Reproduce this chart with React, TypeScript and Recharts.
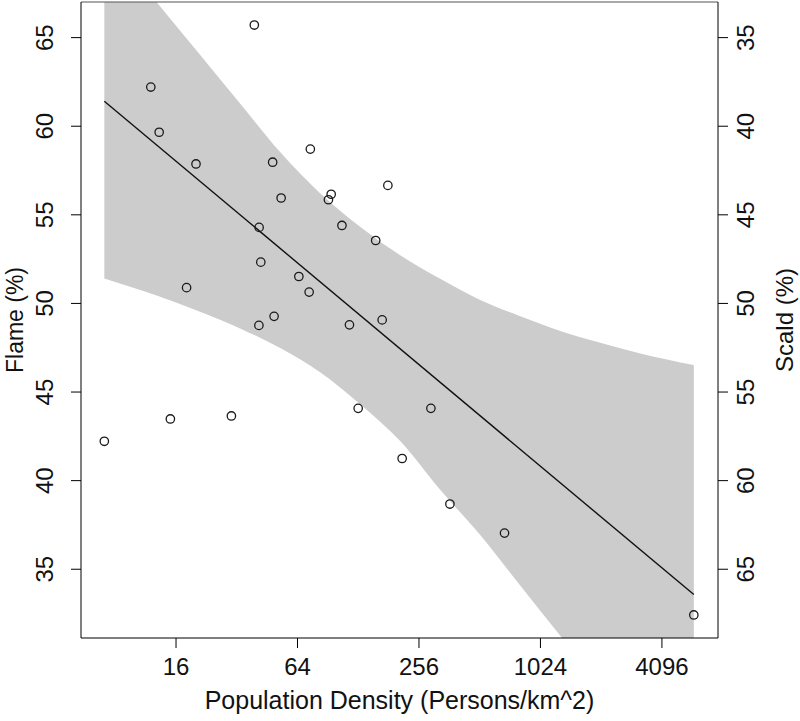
import React from "react"
import {
  ComposedChart,
  Area,
  Line,
  Scatter,
  XAxis,
  YAxis,
  ReferenceLine,
  Label,
} from "recharts"

// population density (persons/km^2) and flame share (%) per region
const density = [
  7.06, 12.0, 13.2, 15.0, 18.05, 20.1, 30.1, 39.1, 41.3, 42.1, 41.2, 48.2, 49.0, 53.1, 65.0,
  73.1, 74.1, 91.1, 94.0, 106.3, 115.8, 127.9, 156.2, 168.2, 179.5, 211.3, 293.3, 364.4, 679.5, 5894,
]
const flame = [
  42.22, 62.21, 59.66, 43.48, 50.89, 57.87, 43.65, 65.71, 54.29, 52.33, 48.76, 57.97, 49.27, 55.95, 51.52,
  50.64, 58.71, 55.85, 56.16, 54.4, 48.79, 44.08, 53.55, 49.07, 56.66, 41.25, 44.08, 38.68, 37.04, 32.42,
]

// confidence band
const bandX = [7.06, 12.93, 21.05, 33.24, 52.5, 82.8, 130.8, 206.6, 326.1, 515, 813, 1284, 2027, 3200, 5894]
const bandUpper = [70.6, 66.96, 64.03, 61.28, 58.54, 56.22, 54.33, 52.72, 51.39, 50.19, 49.28, 48.45, 47.78, 47.18, 46.52]
const bandLower = [51.41, 50.43, 49.53, 48.59, 47.48, 46.12, 44.31, 42.23, 39.48, 36.93, 34.08, 31.24, 28.45, 25.5, 21.6]

// regression line end points
const fitX = [7.06, 5894]
const fitY = [61.41, 33.57]

const xTicks = [16, 64, 256, 1024, 4096]
const flameTicks = [35, 40, 45, 50, 55, 60, 65]
const scaldTicks = [35, 40, 45, 50, 55, 60, 65]

const FONT = "'Liberation Sans', Arial, Helvetica, sans-serif"
const INK = "#111111"

const points = density.map((x, i) => ({ x, flame: flame[i] }))
const rows = bandX.map((x, i) => {
  const k = fitX.indexOf(x)
  return { x, band: [bandLower[i], bandUpper[i]], fit: k >= 0 ? fitY[k] : null }
})

function RotTick(props: any) {
  const { x, y, payload } = props
  return (
    <text
      x={x}
      y={y}
      transform={`rotate(-90 ${x} ${y})`}
      textAnchor="middle"
      fontSize={24}
      fontFamily={FONT}
      fill={INK}
    >
      {payload.value}
    </text>
  )
}

function Ring(props: any) {
  const { cx, cy } = props
  return <circle cx={cx} cy={cy} r={4.2} fill="none" stroke="#1a1a1a" strokeWidth={1.3} />
}

export default function App() {
  return (
    <div style={{ position: "absolute", left: 0, top: 0, background: "#fff" }}>
      <ComposedChart width={800} height={721} data={rows} margin={{ top: 2, right: 0, bottom: 0, left: 0 }}>
        <XAxis
          dataKey="x"
          type="number"
          scale="log"
          domain={[5.41, 7767]}
          allowDataOverflow
          ticks={xTicks}
          height={83}
          tickSize={10}
          tickMargin={10}
          stroke="#000"
          tick={{ fontSize: 24, fontFamily: FONT, fill: INK }}
        >
          <Label
            content={(p: any) => {
              const vb = p.viewBox
              return (
                <text x={vb.x + vb.width / 2} y={vb.y + 70.6} textAnchor="middle" fontSize={25} fontFamily={FONT} fill={INK}>
                  Population Density (Persons/km^2)
                </text>
              )
            }}
          />
        </XAxis>
        <YAxis
          yAxisId="left"
          dataKey="flame"
          type="number"
          domain={[31.12, 67.01]}
          allowDataOverflow
          ticks={flameTicks}
          width={81}
          tickSize={10}
          tickMargin={17.7}
          stroke="#000"
          tick={<RotTick />}
        >
          <Label
            content={(p: any) => {
              const vb = p.viewBox
              const cx = 23
              const cy = vb.y + vb.height / 2
              return (
                <text x={cx} y={cy} transform={`rotate(-90 ${cx} ${cy})`} textAnchor="middle" fontSize={23} fontFamily={FONT} fill={INK}>
                  Flame (%)
                </text>
              )
            }}
          />
        </YAxis>
        <YAxis
          yAxisId="right"
          orientation="right"
          type="number"
          domain={[32.99, 68.88]}
          reversed
          allowDataOverflow
          ticks={scaldTicks}
          width={82}
          tickSize={10}
          tickMargin={25.6}
          stroke="#000"
          tick={<RotTick />}
        >
          <Label
            content={(p: any) => {
              const vb = p.viewBox
              const cx = vb.x + 75
              const cy = vb.y + vb.height / 2
              return (
                <text x={cx} y={cy} transform={`rotate(-90 ${cx} ${cy})`} textAnchor="middle" fontSize={24} fontFamily={FONT} fill={INK}>
                  Scald (%)
                </text>
              )
            }}
          />
        </YAxis>
        <Area
          yAxisId="left"
          dataKey="band"
          type="monotone"
          fill="#cccccc"
          fillOpacity={1}
          stroke="none"
          isAnimationActive={false}
        />
        <Line
          yAxisId="left"
          dataKey="fit"
          type="linear"
          stroke="#111"
          strokeWidth={1.4}
          dot={false}
          connectNulls
          isAnimationActive={false}
        />
        <Scatter yAxisId="left" data={points} dataKey="flame" shape={<Ring />} isAnimationActive={false} />
        <ReferenceLine yAxisId="left" y={67.01} stroke="#555" strokeWidth={1.2} />
      </ComposedChart>
    </div>
  )
}
